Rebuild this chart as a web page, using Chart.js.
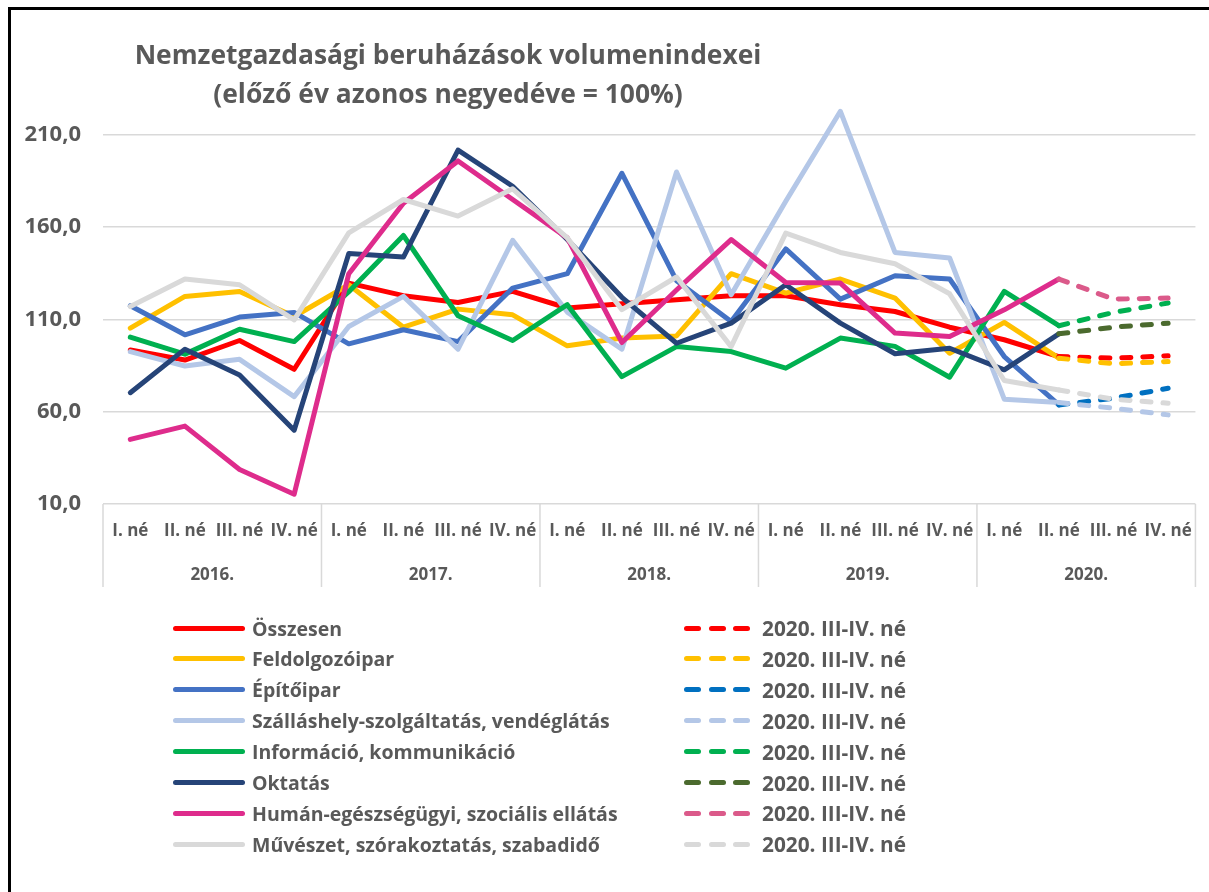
<!DOCTYPE html>
<html>
<head>
<meta charset="utf-8">
<script src="https://cdn.jsdelivr.net/npm/chart.js@4.4.1/dist/chart.umd.min.js"></script>
<style>
  html, body { margin: 0; padding: 0; background: #fff; }
  #wrap { position: relative; width: 1209px; height: 892px; overflow: hidden; font-family: "Open Sans", sans-serif; color: #595959; }
  #frame { position: absolute; left: 8px; top: 7px; width: 1300px; height: 1000px; border-left: 3px solid #000; border-top: 3px solid #000; }
  #chart { position: absolute; left: 0; top: 0; }
  #title { position: absolute; left: 48px; width: 800px; top: 35px; text-align: center; font-size: 26.4px; font-weight: bold; line-height: 39px; }
  .row { position: absolute; height: 30px; display: flex; align-items: center; font-size: 19.5px; font-weight: bold; white-space: nowrap; }
  .row.proj { font-size: 20.8px; }
  .swatch { width: 72px; height: 5px; border-radius: 3px; margin-right: 7px; }
  .dashes { display: flex; width: 66px; justify-content: space-between; margin-right: 12px; }
  .dashes span { width: 17px; height: 5px; border-radius: 3px; }
</style>
</head>
<body>
<div id="wrap">
  <div id="frame"></div>
  <canvas id="chart" width="1209" height="892"></canvas>
  <div id="title">Nemzetgazdasági beruházások volumenindexei<br>(előző év azonos negyedéve = 100%)</div>
  <div id="legend"></div>
</div>
<script>
const quarters = ["I. né", "II. né", "III. né", "IV. né",
                  "I. né", "II. né", "III. né", "IV. né",
                  "I. né", "II. né", "III. né", "IV. né",
                  "I. né", "II. né", "III. né", "IV. né",
                  "I. né", "II. né", "III. né", "IV. né"];
const years = ["2016.", "2017.", "2018.", "2019.", "2020."];
const yTicks = [10, 60, 110, 160, 210];

const seriesNames = ["Összesen", "Feldolgozóipar", "Építőipar", "Szálláshely-szolgáltatás, vendéglátás",
                     "Információ, kommunikáció", "Oktatás", "Humán-egészségügyi, szociális ellátás",
                     "Művészet, szórakoztatás, szabadidő"];
const projectionName = "2020. III-IV. né";

// tényadatok 2016 I. né - 2020 II. né
const osszesen     = [93.5, 88, 98.6, 83, 129.7, 122.9, 119.2, 125.2, 116.2, 118.5, 120.7, 122.9, 122.8, 118, 114.3, 105.8, 99, 89.9, null, null];
const feldolgozo   = [105.3, 122.5, 125.2, 111.6, 128.8, 105.8, 115.6, 112.5, 95.7, 99.9, 101.1, 134.8, 124.3, 131.9, 121.6, 91.7, 108.4, 89, null, null];
const epitoipar    = [117.4, 101.7, 111.3, 113.8, 96.8, 104.4, 98, 127, 134.8, 189.2, 131, 108.9, 148.2, 121, 133.7, 131.9, 89.9, 63.7, null, null];
const szallashely  = [92.6, 84.8, 88.4, 68.2, 106.2, 122.5, 93.9, 152.9, 114, 93.9, 189.9, 123.4, 174, 222.8, 146.3, 143.3, 66.8, 65, null, null];
const informacio   = [100.4, 91.2, 104.7, 98, 125, 155.5, 112, 98.6, 118, 79, 95.3, 92.6, 83.6, 99.9, 95.4, 78.7, 125.2, 106.6, null, null];
const oktatas      = [70.3, 93.9, 79.9, 50, 145.7, 143.8, 201.8, 182.2, 153.3, 122, 97.1, 108, 128.8, 108, 91.4, 94.4, 82.7, 102.2, null, null];
const human        = [45, 52.2, 28.7, 15.3, 134.8, 173, 195.9, 175, 154.2, 97.5, 126, 153.3, 130, 129.7, 102.6, 100.8, 115.2, 131.9, null, null];
const muveszet     = [117, 131.9, 128.8, 109.8, 156.9, 175, 166, 180.8, 154.2, 115.3, 133, 95.3, 156.8, 146.3, 140.2, 123.9, 76.9, 71.8, null, null];

// becslés 2020 II. né - IV. né
const osszesenBecsles    = [89.9, 89, 90.3];
const feldolgozoBecsles  = [89, 86, 87.2];
const epitoiparBecsles   = [63.7, 67.3, 72.7];
const szallashelyBecsles = [65, 61.9, 58.3];
const informacioBecsles  = [106.6, 113.8, 118.9];
const oktatasBecsles     = [102.2, 105.8, 108];
const humanBecsles       = [131.9, 121, 121.6];
const muveszetBecsles    = [71.8, 66.8, 64.6];

const actualSeries = [osszesen, feldolgozo, epitoipar, szallashely, informacio, oktatas, human, muveszet];
const projSeries = [osszesenBecsles, feldolgozoBecsles, epitoiparBecsles, szallashelyBecsles,
                    informacioBecsles, oktatasBecsles, humanBecsles, muveszetBecsles];

const lineColors = ["#FF0000", "#FFC000", "#4472C4", "#B4C7E7", "#00B050", "#264478", "#DE2C8C", "#D9D9D9"];
const projColors = ["#FF0000", "#FFC000", "#0070C0", "#B4C7E7", "#00B050", "#4B6A2E", "#DB5A8A", "#D9D9D9"];

function padProjection(values) {
    return Array(quarters.length - values.length).fill(null).concat(values);
}

const datasets = [];
actualSeries.forEach((data, i) => {
    datasets.push({
        label: seriesNames[i],
        data: data,
        borderColor: lineColors[i],
        order: 100 - i
    });
});
projSeries.forEach((data, i) => {
    datasets.push({
        label: projectionName,
        data: padProjection(data),
        borderColor: projColors[i],
        borderDash: [9, 12],
        order: 50 - i
    });
});
datasets.forEach(ds => {
    ds.xAxisID = "x";
    ds.borderWidth = 5;
    ds.pointRadius = 0;
    ds.tension = 0;
    ds.borderCapStyle = "round";
    ds.borderJoinStyle = "round";
    ds.spanGaps = false;
});

const yearSeparators = {
    id: "yearSeparators",
    afterDraw(chart) {
        const x = chart.scales.x;
        const yr = chart.scales.year;
        const half = (x.getPixelForValue(1) - x.getPixelForValue(0)) / 2;
        const ctx = chart.ctx;
        ctx.save();
        ctx.strokeStyle = "#D9D9D9";
        ctx.lineWidth = 1.5;
        for (let i = 0; i <= quarters.length; i += 4) {
            const px = i < quarters.length ? x.getPixelForValue(i) - half : x.getPixelForValue(i - 1) + half;
            ctx.beginPath();
            ctx.moveTo(px, chart.chartArea.bottom);
            ctx.lineTo(px, yr.bottom);
            ctx.stroke();
        }
        ctx.restore();
    }
};

const labelColor = "#595959";

new Chart(document.getElementById("chart"), {
    type: "line",
    data: { labels: quarters, datasets: datasets },
    plugins: [yearSeparators],
    options: {
        responsive: false,
        animation: false,
        layout: { padding: { left: 0, top: 98, right: 12, bottom: 305 } },
        plugins: {
            legend: { display: false },
            title: { display: false },
            tooltip: { enabled: false }
        },
        scales: {
            x: {
                type: "category",
                offset: true,
                grid: { display: false, drawTicks: false },
                border: { display: false },
                ticks: {
                    color: labelColor,
                    font: { family: "Open Sans", size: 17, weight: "bold" },
                    padding: 17,
                    autoSkip: false,
                    minRotation: 0,
                    maxRotation: 0
                },
                afterFit: s => { s.height = 42; }
            },
            year: {
                type: "category",
                labels: years,
                position: "bottom",
                offset: true,
                weight: 1,
                grid: { display: false, drawTicks: false },
                border: { display: false },
                ticks: {
                    color: labelColor,
                    font: { family: "Open Sans", size: 17, weight: "bold" },
                    padding: 19,
                    autoSkip: false,
                    minRotation: 0,
                    maxRotation: 0
                },
                afterFit: s => { s.height = 41; }
            },
            y: {
                min: 10,
                max: 230,
                grid: { color: "#D9D9D9", lineWidth: 1.5, drawTicks: false },
                border: { display: false },
                ticks: {
                    color: labelColor,
                    font: { family: "Open Sans", size: 22, weight: "bold" },
                    padding: 22,
                    callback: v => v.toFixed(1).replace(".", ",")
                },
                afterBuildTicks: s => { s.ticks = yTicks.map(v => ({ value: v })); },
                afterFit: s => { s.width = 103; }
            }
        }
    }
});

// jelmagyarázat két oszlopban
const legend = document.getElementById("legend");
seriesNames.forEach((name, i) => {
    const top = 613 + i * 30.9;
    const left = document.createElement("div");
    left.className = "row";
    left.style.left = "173px";
    left.style.top = top + "px";
    left.innerHTML = '<div class="swatch" style="background:' + lineColors[i] + '"></div>' + name;
    legend.appendChild(left);

    const right = document.createElement("div");
    right.className = "row proj";
    right.style.left = "684px";
    right.style.top = top + "px";
    const dashes = '<div class="dashes">' + ['', '', ''].map(() => '<span style="background:' + projColors[i] + '"></span>').join('') + '</div>';
    right.innerHTML = dashes + projectionName;
    legend.appendChild(right);
});
</script>
</body>
</html>
